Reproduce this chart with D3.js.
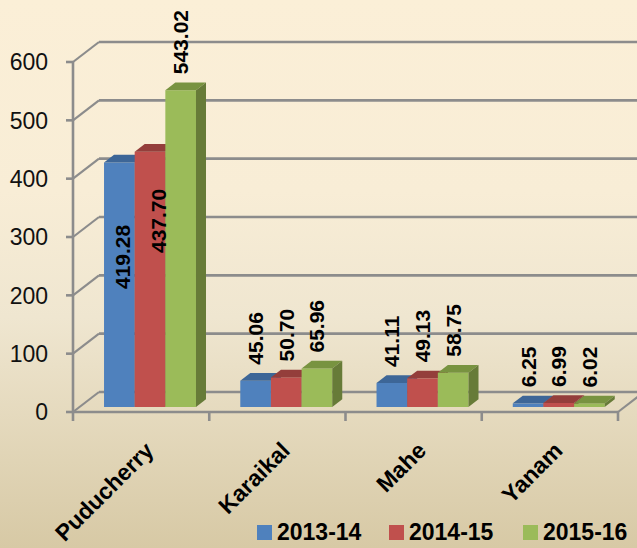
<!DOCTYPE html>
<html><head><meta charset="utf-8">
<script src="https://cdn.jsdelivr.net/npm/d3@7"></script>
<style>html,body{margin:0;padding:0;overflow:hidden;background:#f5ecd8}</style>
</head><body>
<script>
// ---- data ----
const categories = ["Puducherry", "Karaikal", "Mahe", "Yanam"];
const seriesNames = ["2013-14", "2014-15", "2015-16"];
const values2013_14 = [419.28, 45.06, 41.11, 6.25];
const values2014_15 = [437.70, 50.70, 49.13, 6.99];
const values2015_16 = [543.02, 65.96, 58.75, 6.02];
const yTicks = [0, 100, 200, 300, 400, 500, 600];
const labelTexts2013_14 = ["419.28", "45.06", "41.11", "6.25"];
const labelTexts2014_15 = ["437.70", "50.70", "49.13", "6.99"];
const labelTexts2015_16 = ["543.02", "65.96", "58.75", "6.02"];

const seriesValues = [values2013_14, values2014_15, values2015_16];
const seriesLabels = [labelTexts2013_14, labelTexts2014_15, labelTexts2015_16];

// ---- styles ----
const W = 637, H = 548;
const frontCol = ["#4F81BD", "#C0504D", "#9BBB59"];
const topCol = ["#3D6697", "#943E3B", "#789340"];
const sideCol = ["#375C89", "#853634", "#677B38"];
const gridCol = "#8C8C8C";
const DX = 26, DY = 20;         // depth offset of the plot box
const Z0 = 0.25, Z1 = 0.635;    // bar depth span
const FONT = "Liberation Sans, Arial, sans-serif";

const svg = d3.select("body").append("svg").attr("width", W).attr("height", H)
  .style("display", "block");

const defs = svg.append("defs");
const bg = defs.append("linearGradient").attr("id", "bg").attr("x1", 0).attr("y1", 0).attr("x2", 0).attr("y2", 1);
[[0, "#FBEFD7"], [0.35, "#F8EDD6"], [0.58, "#EFE6D0"], [1, "#D7C9A5"]].forEach(s =>
  bg.append("stop").attr("offset", s[0]).attr("stop-color", s[1]));
svg.append("rect").attr("width", W).attr("height", H).attr("fill", "url(#bg)");

const y = d3.scaleLinear().domain([0, 600]).range([412, 62]);
const x0 = d3.scaleBand().domain(categories).range([73, 618]).padding(0);
const bw = x0.bandwidth();
const x1 = d3.scaleBand().domain(seriesNames).range([bw * 0.18, bw * 0.855]).padding(0);

const P = (xp, v, z) => [xp + z * DX, y(v) - z * DY];
const poly = pts => "M" + pts.map(p => p.join(",")).join("L") + "Z";

const g = svg.append("g");
// back wall gridlines
g.selectAll(".grid").data(yTicks).join("line")
  .attr("x1", d => P(73, d, 1)[0]).attr("y1", d => P(73, d, 1)[1])
  .attr("x2", d => P(618, d, 1)[0]).attr("y2", d => P(618, d, 1)[1])
  .attr("stroke", gridCol).attr("stroke-width", 2.6);
// side wall diagonals
g.selectAll(".diag").data(yTicks).join("line")
  .attr("x1", d => P(73, d, 0)[0]).attr("y1", d => P(73, d, 0)[1])
  .attr("x2", d => P(73, d, 1)[0]).attr("y2", d => P(73, d, 1)[1])
  .attr("stroke", gridCol).attr("stroke-width", 2.2);
// floor front edge and right edge
g.append("line").attr("x1", 73).attr("y1", y(0)).attr("x2", 618).attr("y2", y(0))
  .attr("stroke", gridCol).attr("stroke-width", 2.6);
g.append("line").attr("x1", P(618, 0, 0)[0]).attr("y1", P(618, 0, 0)[1])
  .attr("x2", P(618, 0, 1)[0]).attr("y2", P(618, 0, 1)[1])
  .attr("stroke", gridCol).attr("stroke-width", 2.2);
// y axis
g.append("line").attr("x1", 73).attr("y1", y(600)).attr("x2", 73).attr("y2", y(0) + 9)
  .attr("stroke", gridCol).attr("stroke-width", 2.6);
g.selectAll(".yt").data(yTicks).join("line")
  .attr("x1", 66).attr("x2", 73).attr("y1", d => y(d)).attr("y2", d => y(d))
  .attr("stroke", gridCol).attr("stroke-width", 2.6);
// category ticks
const bounds = categories.map(c => x0(c) + bw);
g.selectAll(".xt").data(bounds).join("line")
  .attr("x1", d => d).attr("x2", d => d).attr("y1", y(0)).attr("y2", y(0) + 9)
  .attr("stroke", gridCol).attr("stroke-width", 2.6);

// y tick labels
svg.selectAll(".yl").data(yTicks).join("text")
  .attr("x", 48).attr("y", d => y(d)).attr("dy", "0.36em")
  .attr("text-anchor", "end").attr("font-family", FONT)
  .attr("font-size", 23).attr("fill", "#111").text(d => d);

// bars
const bars = svg.append("g");
categories.forEach((c, ci) => {
  seriesNames.forEach((s, si) => {
    const v = seriesValues[si][ci];
    const xa = x0(c) + x1(s), xb = xa + x1.bandwidth();
    const bg2 = bars.append("g");
    bg2.append("path").attr("d", poly([P(xa, v, Z0), P(xb, v, Z0), P(xb, 0, Z0), P(xa, 0, Z0)]))
      .attr("fill", frontCol[si]);
    bg2.append("path").attr("d", poly([P(xa, v, Z0), P(xb, v, Z0), P(xb, v, Z1), P(xa, v, Z1)]))
      .attr("fill", topCol[si]);
    bg2.append("path").attr("d", poly([P(xb, 0, Z0), P(xb, v, Z0), P(xb, v, Z1), P(xb, 0, Z1)]))
      .attr("fill", sideCol[si]);
  });
});

// data labels (two tall Puducherry labels sit inside their bars)
const inside = { "0-0": { bottom: 289, dx: 3 }, "0-1": { bottom: 253, dx: 8 } };
const labels = svg.append("g");
categories.forEach((c, ci) => {
  seriesNames.forEach((s, si) => {
    const v = seriesValues[si][ci];
    const xa = x0(c) + x1(s);
    let cx = P(xa + x1.bandwidth() / 2, v, Z0)[0];
    let by = P(xa, v, Z0)[1] - 16;
    const ins = inside[ci + "-" + si];
    if (ins) { by = ins.bottom; cx += ins.dx; }
    labels.append("text")
      .attr("transform", `translate(${cx},${by}) rotate(-90)`)
      .attr("dy", "0.36em")
      .attr("font-family", FONT)
      .attr("font-size", 21).attr("font-weight", "bold").attr("fill", "#000")
      .text(seriesLabels[si][ci]);
  });
});

// category labels
svg.selectAll(".cl").data(categories).join("text")
  .attr("transform", d => `translate(${x0(d) + bw / 2 + 14},${452}) rotate(-45)`)
  .attr("text-anchor", "end")
  .attr("font-family", FONT)
  .attr("font-size", 23).attr("font-weight", "bold").attr("fill", "#000")
  .text(d => d);

// legend
const legX = [257, 389, 523];
const leg = svg.append("g");
seriesNames.forEach((s, i) => {
  leg.append("rect").attr("x", legX[i]).attr("y", 525).attr("width", 15).attr("height", 15)
    .attr("fill", frontCol[i]);
  leg.append("text").attr("x", legX[i] + 20).attr("y", 540)
    .attr("font-family", FONT)
    .attr("font-size", 23).attr("font-weight", "bold").attr("fill", "#000")
    .text(s);
});
</script>
</body></html>
